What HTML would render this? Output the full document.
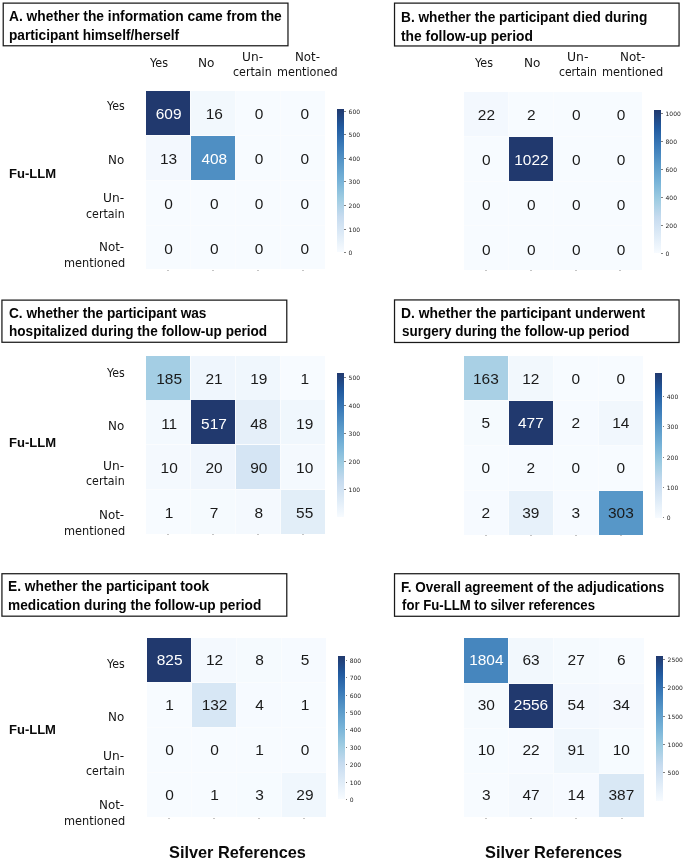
<!DOCTYPE html>
<html lang="en"><head><meta charset="utf-8"><title>Fu-LLM confusion matrices</title>
<style>
html,body{margin:0;padding:0;background:#fff;}
body{width:685px;height:861px;position:relative;overflow:hidden;font-family:"Liberation Sans",sans-serif;color:#111;}
.tb{position:absolute;border:1.4px solid #1c1c1c;box-sizing:border-box;background:#fff;}
.t{position:absolute;white-space:nowrap;transform-origin:0 50%;}
.tl{font-weight:bold;font-size:14.2px;line-height:18px;color:#050505;}
.cell{position:absolute;text-align:center;font-size:15px;line-height:18px;color:#1a1a1a;}
.cell span{position:absolute;left:0;right:0;top:50%;margin-top:-7.5px;transform:scaleX(1.03)}
.lab{font-family:"DejaVu Sans","Liberation Sans",sans-serif;font-size:11.6px;line-height:14px;color:#151515;}
.fu{font-weight:bold;font-size:12.6px;line-height:16px;color:#0a0a0a;}
.sr{font-weight:bold;font-size:16.1px;line-height:20px;color:#0a0a0a;}
.cb{position:absolute;}
.tk{position:absolute;font-family:"DejaVu Sans","Liberation Sans",sans-serif;font-size:6px;line-height:8px;color:#222;white-space:nowrap;}
.tm{position:absolute;height:1px;width:1.6px;background:#808080;}
.dot{position:absolute;width:2px;height:1px;background:#c4c4c4;}
</style></head><body>

<div id="tA0" class="t tl" style="left:8.67px;top:7.01px;transform:scaleX(0.9720)">A. whether the information came from the</div>
<div id="tA1" class="t tl" style="left:8.58px;top:25.71px;transform:scaleX(0.9635)">participant himself/herself</div>
<div style="position:absolute;left:146.0px;top:91.3px;width:179.2px;height:178.2px;background:#fafcfe"></div>
<div class="cell" style="left:146.00px;top:91.30px;width:44.20px;height:43.95px;background:#21396e;color:#fff"><span style="margin-left:0.95px;margin-top:-8.00px">609</span></div>
<div class="cell" style="left:191.00px;top:91.30px;width:44.20px;height:43.95px;background:#f2f8fd;color:#1a1a1a"><span style="margin-left:1.52px;margin-top:-8.00px">16</span></div>
<div class="cell" style="left:236.00px;top:91.30px;width:44.20px;height:43.95px;background:#f7fbff;color:#1a1a1a"><span style="margin-left:2.09px;margin-top:-8.00px">0</span></div>
<div class="cell" style="left:281.00px;top:91.30px;width:44.20px;height:43.95px;background:#f7fbff;color:#1a1a1a"><span style="margin-left:2.66px;margin-top:-8.00px">0</span></div>
<div class="cell" style="left:146.00px;top:136.05px;width:44.20px;height:43.95px;background:#f3f8fe;color:#1a1a1a"><span style="margin-left:0.95px;margin-top:-8.00px">13</span></div>
<div class="cell" style="left:191.00px;top:136.05px;width:44.20px;height:43.95px;background:#4f8fc3;color:#fff"><span style="margin-left:1.52px;margin-top:-8.00px">408</span></div>
<div class="cell" style="left:236.00px;top:136.05px;width:44.20px;height:43.95px;background:#f7fbff;color:#1a1a1a"><span style="margin-left:2.09px;margin-top:-8.00px">0</span></div>
<div class="cell" style="left:281.00px;top:136.05px;width:44.20px;height:43.95px;background:#f7fbff;color:#1a1a1a"><span style="margin-left:2.66px;margin-top:-8.00px">0</span></div>
<div class="cell" style="left:146.00px;top:180.80px;width:44.20px;height:43.95px;background:#f7fbff;color:#1a1a1a"><span style="margin-left:0.95px;margin-top:-8.00px">0</span></div>
<div class="cell" style="left:191.00px;top:180.80px;width:44.20px;height:43.95px;background:#f7fbff;color:#1a1a1a"><span style="margin-left:1.52px;margin-top:-8.00px">0</span></div>
<div class="cell" style="left:236.00px;top:180.80px;width:44.20px;height:43.95px;background:#f7fbff;color:#1a1a1a"><span style="margin-left:2.09px;margin-top:-8.00px">0</span></div>
<div class="cell" style="left:281.00px;top:180.80px;width:44.20px;height:43.95px;background:#f7fbff;color:#1a1a1a"><span style="margin-left:2.66px;margin-top:-8.00px">0</span></div>
<div class="cell" style="left:146.00px;top:225.55px;width:44.20px;height:43.95px;background:#f7fbff;color:#1a1a1a"><span style="margin-left:0.95px;margin-top:-8.00px">0</span></div>
<div class="cell" style="left:191.00px;top:225.55px;width:44.20px;height:43.95px;background:#f7fbff;color:#1a1a1a"><span style="margin-left:1.52px;margin-top:-8.00px">0</span></div>
<div class="cell" style="left:236.00px;top:225.55px;width:44.20px;height:43.95px;background:#f7fbff;color:#1a1a1a"><span style="margin-left:2.09px;margin-top:-8.00px">0</span></div>
<div class="cell" style="left:281.00px;top:225.55px;width:44.20px;height:43.95px;background:#f7fbff;color:#1a1a1a"><span style="margin-left:2.66px;margin-top:-8.00px">0</span></div>
<div class="dot" style="left:167.1px;top:270.0px"></div>
<div class="dot" style="left:212.1px;top:270.0px"></div>
<div class="dot" style="left:257.1px;top:270.0px"></div>
<div class="dot" style="left:302.1px;top:270.0px"></div>
<div class="cb" style="left:336.8px;top:109.1px;width:7.3px;height:143.4px;background:linear-gradient(to bottom,#21396e 0.0%,#215a9f 12.5%,#3a7ab8 25.0%,#5999c9 37.5%,#77b3d8 50.0%,#9ecce2 62.5%,#c6dbef 75.0%,#deebf7 87.5%,#f7fbff 100.0%)"></div>
<div class="tm" style="left:344.4px;top:110.7px"></div>
<div class="tk" style="left:348.6px;top:107.7px">600</div>
<div class="tm" style="left:344.4px;top:134.3px"></div>
<div class="tk" style="left:348.6px;top:131.3px">500</div>
<div class="tm" style="left:344.4px;top:157.8px"></div>
<div class="tk" style="left:348.6px;top:154.8px">400</div>
<div class="tm" style="left:344.4px;top:181.4px"></div>
<div class="tk" style="left:348.6px;top:178.4px">300</div>
<div class="tm" style="left:344.4px;top:204.9px"></div>
<div class="tk" style="left:348.6px;top:201.9px">200</div>
<div class="tm" style="left:344.4px;top:228.5px"></div>
<div class="tk" style="left:348.6px;top:225.5px">100</div>
<div class="tm" style="left:344.4px;top:252.0px"></div>
<div class="tk" style="left:348.6px;top:249.0px">0</div>
<div id="rA0" class="t lab" style="left:106.68px;top:98.80px;transform:scaleX(0.9525)">Yes</div>
<div id="rA1" class="t lab" style="left:107.69px;top:152.71px;transform:scaleX(1.0263)">No</div>
<div id="rA2" class="t lab" style="left:103.13px;top:191.10px;transform:scaleX(1.0543)">Un-</div>
<div id="rA3" class="t lab" style="left:85.95px;top:207.21px;transform:scaleX(0.9546)">certain</div>
<div id="rA4" class="t lab" style="left:99.25px;top:240.00px;transform:scaleX(1.0251)">Not-</div>
<div id="rA5" class="t lab" style="left:64.21px;top:256.21px;transform:scaleX(0.9784)">mentioned</div>
<div id="fuA" class="t fu" style="left:9.18px;top:166.01px;transform:scaleX(1.0362)">Fu-LLM</div>
<div id="tB0" class="t tl" style="left:401.41px;top:8.21px;transform:scaleX(0.9643)">B. whether the participant died during</div>
<div id="tB1" class="t tl" style="left:400.91px;top:26.91px;transform:scaleX(0.9735)">the follow-up period</div>
<div style="position:absolute;left:464.1px;top:92.3px;width:178.2px;height:177.6px;background:#fafcfe"></div>
<div class="cell" style="left:464.10px;top:92.30px;width:43.95px;height:43.80px;background:#f3f8fe;color:#1a1a1a"><span style="margin-left:1.15px;margin-top:-8.50px">22</span></div>
<div class="cell" style="left:508.85px;top:92.30px;width:43.95px;height:43.80px;background:#f7fbff;color:#1a1a1a"><span style="margin-left:1.15px;margin-top:-8.50px">2</span></div>
<div class="cell" style="left:553.60px;top:92.30px;width:43.95px;height:43.80px;background:#f7fbff;color:#1a1a1a"><span style="margin-left:1.50px;margin-top:-8.50px">0</span></div>
<div class="cell" style="left:598.35px;top:92.30px;width:43.95px;height:43.80px;background:#f7fbff;color:#1a1a1a"><span style="margin-left:1.75px;margin-top:-8.50px">0</span></div>
<div class="cell" style="left:464.10px;top:136.90px;width:43.95px;height:43.80px;background:#f7fbff;color:#1a1a1a"><span style="margin-left:1.15px;margin-top:-8.16px">0</span></div>
<div class="cell" style="left:508.85px;top:136.90px;width:43.95px;height:43.80px;background:#21396e;color:#fff"><span style="margin-left:1.15px;margin-top:-8.16px">1022</span></div>
<div class="cell" style="left:553.60px;top:136.90px;width:43.95px;height:43.80px;background:#f7fbff;color:#1a1a1a"><span style="margin-left:1.50px;margin-top:-8.16px">0</span></div>
<div class="cell" style="left:598.35px;top:136.90px;width:43.95px;height:43.80px;background:#f7fbff;color:#1a1a1a"><span style="margin-left:1.75px;margin-top:-8.16px">0</span></div>
<div class="cell" style="left:464.10px;top:181.50px;width:43.95px;height:43.80px;background:#f7fbff;color:#1a1a1a"><span style="margin-left:1.15px;margin-top:-7.82px">0</span></div>
<div class="cell" style="left:508.85px;top:181.50px;width:43.95px;height:43.80px;background:#f7fbff;color:#1a1a1a"><span style="margin-left:1.15px;margin-top:-7.82px">0</span></div>
<div class="cell" style="left:553.60px;top:181.50px;width:43.95px;height:43.80px;background:#f7fbff;color:#1a1a1a"><span style="margin-left:1.50px;margin-top:-7.82px">0</span></div>
<div class="cell" style="left:598.35px;top:181.50px;width:43.95px;height:43.80px;background:#f7fbff;color:#1a1a1a"><span style="margin-left:1.75px;margin-top:-7.82px">0</span></div>
<div class="cell" style="left:464.10px;top:226.10px;width:43.95px;height:43.80px;background:#f7fbff;color:#1a1a1a"><span style="margin-left:1.15px;margin-top:-7.48px">0</span></div>
<div class="cell" style="left:508.85px;top:226.10px;width:43.95px;height:43.80px;background:#f7fbff;color:#1a1a1a"><span style="margin-left:1.15px;margin-top:-7.48px">0</span></div>
<div class="cell" style="left:553.60px;top:226.10px;width:43.95px;height:43.80px;background:#f7fbff;color:#1a1a1a"><span style="margin-left:1.50px;margin-top:-7.48px">0</span></div>
<div class="cell" style="left:598.35px;top:226.10px;width:43.95px;height:43.80px;background:#f7fbff;color:#1a1a1a"><span style="margin-left:1.75px;margin-top:-7.48px">0</span></div>
<div class="dot" style="left:485.1px;top:270.4px"></div>
<div class="dot" style="left:529.8px;top:270.4px"></div>
<div class="dot" style="left:574.6px;top:270.4px"></div>
<div class="dot" style="left:619.3px;top:270.4px"></div>
<div class="cb" style="left:654.4px;top:110.1px;width:6.6px;height:143.1px;background:linear-gradient(to bottom,#21396e 0.0%,#215a9f 12.5%,#3a7ab8 25.0%,#5999c9 37.5%,#77b3d8 50.0%,#9ecce2 62.5%,#c6dbef 75.0%,#deebf7 87.5%,#f7fbff 100.0%)"></div>
<div class="tm" style="left:661.3px;top:112.7px"></div>
<div class="tk" style="left:665.5px;top:109.7px">1000</div>
<div class="tm" style="left:661.3px;top:140.7px"></div>
<div class="tk" style="left:665.5px;top:137.7px">800</div>
<div class="tm" style="left:661.3px;top:168.7px"></div>
<div class="tk" style="left:665.5px;top:165.7px">600</div>
<div class="tm" style="left:661.3px;top:196.7px"></div>
<div class="tk" style="left:665.5px;top:193.7px">400</div>
<div class="tm" style="left:661.3px;top:224.7px"></div>
<div class="tk" style="left:665.5px;top:221.7px">200</div>
<div class="tm" style="left:661.3px;top:252.7px"></div>
<div class="tk" style="left:665.5px;top:249.7px">0</div>
<div id="tC0" class="t tl" style="left:9.02px;top:303.51px;transform:scaleX(0.9634)">C. whether the participant was</div>
<div id="tC1" class="t tl" style="left:8.64px;top:322.10px;transform:scaleX(0.9578)">hospitalized during the follow-up period</div>
<div style="position:absolute;left:146.1px;top:355.5px;width:179.1px;height:178.4px;background:#fafcfe"></div>
<div class="cell" style="left:146.10px;top:355.50px;width:44.18px;height:44.00px;background:#a4cee4;color:#1a1a1a"><span style="margin-left:1.85px;margin-top:-7.80px">185</span></div>
<div class="cell" style="left:191.07px;top:355.50px;width:44.18px;height:44.00px;background:#eff6fd;color:#1a1a1a"><span style="margin-left:2.15px;margin-top:-7.80px">21</span></div>
<div class="cell" style="left:236.05px;top:355.50px;width:44.18px;height:44.00px;background:#f0f7fd;color:#1a1a1a"><span style="margin-left:2.45px;margin-top:-7.80px">19</span></div>
<div class="cell" style="left:281.02px;top:355.50px;width:44.18px;height:44.00px;background:#f7fbff;color:#1a1a1a"><span style="margin-left:2.75px;margin-top:-7.80px">1</span></div>
<div class="cell" style="left:146.10px;top:400.30px;width:44.18px;height:44.00px;background:#f3f9fe;color:#1a1a1a"><span style="margin-left:1.85px;margin-top:-7.80px">11</span></div>
<div class="cell" style="left:191.07px;top:400.30px;width:44.18px;height:44.00px;background:#21396e;color:#fff"><span style="margin-left:2.15px;margin-top:-7.80px">517</span></div>
<div class="cell" style="left:236.05px;top:400.30px;width:44.18px;height:44.00px;background:#e5eff9;color:#1a1a1a"><span style="margin-left:2.45px;margin-top:-7.80px">48</span></div>
<div class="cell" style="left:281.02px;top:400.30px;width:44.18px;height:44.00px;background:#f0f7fd;color:#1a1a1a"><span style="margin-left:2.75px;margin-top:-7.80px">19</span></div>
<div class="cell" style="left:146.10px;top:445.10px;width:44.18px;height:44.00px;background:#f4f9fe;color:#1a1a1a"><span style="margin-left:1.85px;margin-top:-7.80px">10</span></div>
<div class="cell" style="left:191.07px;top:445.10px;width:44.18px;height:44.00px;background:#f0f6fd;color:#1a1a1a"><span style="margin-left:2.15px;margin-top:-7.80px">20</span></div>
<div class="cell" style="left:236.05px;top:445.10px;width:44.18px;height:44.00px;background:#d5e5f4;color:#1a1a1a"><span style="margin-left:2.45px;margin-top:-7.80px">90</span></div>
<div class="cell" style="left:281.02px;top:445.10px;width:44.18px;height:44.00px;background:#f4f9fe;color:#1a1a1a"><span style="margin-left:2.75px;margin-top:-7.80px">10</span></div>
<div class="cell" style="left:146.10px;top:489.90px;width:44.18px;height:44.00px;background:#f7fbff;color:#1a1a1a"><span style="margin-left:1.85px;margin-top:-7.80px">1</span></div>
<div class="cell" style="left:191.07px;top:489.90px;width:44.18px;height:44.00px;background:#f5fafe;color:#1a1a1a"><span style="margin-left:2.15px;margin-top:-7.80px">7</span></div>
<div class="cell" style="left:236.05px;top:489.90px;width:44.18px;height:44.00px;background:#f4f9fe;color:#1a1a1a"><span style="margin-left:2.45px;margin-top:-7.80px">8</span></div>
<div class="cell" style="left:281.02px;top:489.90px;width:44.18px;height:44.00px;background:#e2eef8;color:#1a1a1a"><span style="margin-left:2.75px;margin-top:-7.80px">55</span></div>
<div class="dot" style="left:167.2px;top:534.4px"></div>
<div class="dot" style="left:212.2px;top:534.4px"></div>
<div class="dot" style="left:257.1px;top:534.4px"></div>
<div class="dot" style="left:302.1px;top:534.4px"></div>
<div class="cb" style="left:336.8px;top:372.8px;width:7.3px;height:144.2px;background:linear-gradient(to bottom,#21396e 0.0%,#215a9f 12.5%,#3a7ab8 25.0%,#5999c9 37.5%,#77b3d8 50.0%,#9ecce2 62.5%,#c6dbef 75.0%,#deebf7 87.5%,#f7fbff 100.0%)"></div>
<div class="tm" style="left:344.4px;top:377.1px"></div>
<div class="tk" style="left:348.6px;top:374.1px">500</div>
<div class="tm" style="left:344.4px;top:405.0px"></div>
<div class="tk" style="left:348.6px;top:402.0px">400</div>
<div class="tm" style="left:344.4px;top:432.9px"></div>
<div class="tk" style="left:348.6px;top:429.9px">300</div>
<div class="tm" style="left:344.4px;top:460.9px"></div>
<div class="tk" style="left:348.6px;top:457.9px">200</div>
<div class="tm" style="left:344.4px;top:488.8px"></div>
<div class="tk" style="left:348.6px;top:485.8px">100</div>
<div id="rC0" class="t lab" style="left:106.68px;top:366.10px;transform:scaleX(0.9525)">Yes</div>
<div id="rC1" class="t lab" style="left:107.69px;top:419.00px;transform:scaleX(1.0263)">No</div>
<div id="rC2" class="t lab" style="left:103.03px;top:458.71px;transform:scaleX(1.0559)">Un-</div>
<div id="rC3" class="t lab" style="left:85.95px;top:473.80px;transform:scaleX(0.9546)">certain</div>
<div id="rC4" class="t lab" style="left:99.25px;top:507.71px;transform:scaleX(1.0251)">Not-</div>
<div id="rC5" class="t lab" style="left:64.21px;top:523.80px;transform:scaleX(0.9784)">mentioned</div>
<div id="fuC" class="t fu" style="left:9.18px;top:435.21px;transform:scaleX(1.0362)">Fu-LLM</div>
<div id="tD0" class="t tl" style="left:401.42px;top:303.71px;transform:scaleX(0.9765)">D. whether the participant underwent</div>
<div id="tD1" class="t tl" style="left:401.95px;top:322.01px;transform:scaleX(0.9498)">surgery during the follow-up period</div>
<div style="position:absolute;left:463.9px;top:355.5px;width:179.2px;height:179.1px;background:#fafcfe"></div>
<div class="cell" style="left:463.90px;top:355.50px;width:44.20px;height:44.35px;background:#a9d0e5;color:#1a1a1a"><span style="margin-left:0.45px;margin-top:-8.00px">163</span></div>
<div class="cell" style="left:508.90px;top:355.50px;width:44.20px;height:44.35px;background:#f2f8fd;color:#1a1a1a"><span style="margin-left:0.45px;margin-top:-8.00px">12</span></div>
<div class="cell" style="left:553.90px;top:355.50px;width:44.20px;height:44.35px;background:#f7fbff;color:#1a1a1a"><span style="margin-left:0.45px;margin-top:-8.00px">0</span></div>
<div class="cell" style="left:598.90px;top:355.50px;width:44.20px;height:44.35px;background:#f7fbff;color:#1a1a1a"><span style="margin-left:0.45px;margin-top:-8.00px">0</span></div>
<div class="cell" style="left:463.90px;top:400.65px;width:44.20px;height:44.35px;background:#f5fafe;color:#1a1a1a"><span style="margin-left:0.45px;margin-top:-8.40px">5</span></div>
<div class="cell" style="left:508.90px;top:400.65px;width:44.20px;height:44.35px;background:#21396e;color:#fff"><span style="margin-left:0.45px;margin-top:-8.40px">477</span></div>
<div class="cell" style="left:553.90px;top:400.65px;width:44.20px;height:44.35px;background:#f6faff;color:#1a1a1a"><span style="margin-left:0.45px;margin-top:-8.40px">2</span></div>
<div class="cell" style="left:598.90px;top:400.65px;width:44.20px;height:44.35px;background:#f1f7fd;color:#1a1a1a"><span style="margin-left:0.45px;margin-top:-8.40px">14</span></div>
<div class="cell" style="left:463.90px;top:445.80px;width:44.20px;height:44.35px;background:#f7fbff;color:#1a1a1a"><span style="margin-left:0.45px;margin-top:-8.80px">0</span></div>
<div class="cell" style="left:508.90px;top:445.80px;width:44.20px;height:44.35px;background:#f6faff;color:#1a1a1a"><span style="margin-left:0.45px;margin-top:-8.80px">2</span></div>
<div class="cell" style="left:553.90px;top:445.80px;width:44.20px;height:44.35px;background:#f7fbff;color:#1a1a1a"><span style="margin-left:0.45px;margin-top:-8.80px">0</span></div>
<div class="cell" style="left:598.90px;top:445.80px;width:44.20px;height:44.35px;background:#f7fbff;color:#1a1a1a"><span style="margin-left:0.45px;margin-top:-8.80px">0</span></div>
<div class="cell" style="left:463.90px;top:490.95px;width:44.20px;height:43.65px;background:#f6faff;color:#1a1a1a"><span style="margin-left:0.45px;margin-top:-9.20px">2</span></div>
<div class="cell" style="left:508.90px;top:490.95px;width:44.20px;height:43.65px;background:#e7f1fa;color:#1a1a1a"><span style="margin-left:0.45px;margin-top:-9.20px">39</span></div>
<div class="cell" style="left:553.90px;top:490.95px;width:44.20px;height:43.65px;background:#f6faff;color:#1a1a1a"><span style="margin-left:0.45px;margin-top:-9.20px">3</span></div>
<div class="cell" style="left:598.90px;top:490.95px;width:44.20px;height:43.65px;background:#5797c8;color:#1a1a1a"><span style="margin-left:0.45px;margin-top:-9.20px">303</span></div>
<div class="dot" style="left:485.0px;top:535.1px"></div>
<div class="dot" style="left:530.0px;top:535.1px"></div>
<div class="dot" style="left:575.0px;top:535.1px"></div>
<div class="dot" style="left:620.0px;top:535.1px"></div>
<div class="cb" style="left:655.2px;top:372.9px;width:7.1px;height:145.0px;background:linear-gradient(to bottom,#21396e 0.0%,#215a9f 12.5%,#3a7ab8 25.0%,#5999c9 37.5%,#77b3d8 50.0%,#9ecce2 62.5%,#c6dbef 75.0%,#deebf7 87.5%,#f7fbff 100.0%)"></div>
<div class="tm" style="left:662.6px;top:395.8px"></div>
<div class="tk" style="left:666.8px;top:392.8px">400</div>
<div class="tm" style="left:662.6px;top:426.2px"></div>
<div class="tk" style="left:666.8px;top:423.2px">300</div>
<div class="tm" style="left:662.6px;top:456.6px"></div>
<div class="tk" style="left:666.8px;top:453.6px">200</div>
<div class="tm" style="left:662.6px;top:487.0px"></div>
<div class="tk" style="left:666.8px;top:484.0px">100</div>
<div class="tm" style="left:662.6px;top:517.4px"></div>
<div class="tk" style="left:666.8px;top:514.4px">0</div>
<div id="tE0" class="t tl" style="left:8.25px;top:577.31px;transform:scaleX(0.9706)">E. whether the participant took</div>
<div id="tE1" class="t tl" style="left:8.40px;top:596.01px;transform:scaleX(0.9652)">medication during the follow-up period</div>
<div style="position:absolute;left:147.1px;top:638.1px;width:179.1px;height:178.9px;background:#fafcfe"></div>
<div class="cell" style="left:147.10px;top:638.10px;width:44.18px;height:44.12px;background:#21396e;color:#fff"><span style="margin-left:0.90px;margin-top:-9.40px">825</span></div>
<div class="cell" style="left:192.07px;top:638.10px;width:44.18px;height:44.12px;background:#f4f9fe;color:#1a1a1a"><span style="margin-left:1.08px;margin-top:-9.40px">12</span></div>
<div class="cell" style="left:237.05px;top:638.10px;width:44.18px;height:44.12px;background:#f5fafe;color:#1a1a1a"><span style="margin-left:1.26px;margin-top:-9.40px">8</span></div>
<div class="cell" style="left:282.02px;top:638.10px;width:44.18px;height:44.12px;background:#f6faff;color:#1a1a1a"><span style="margin-left:2.30px;margin-top:-9.40px">5</span></div>
<div class="cell" style="left:147.10px;top:683.02px;width:44.18px;height:44.12px;background:#f7fbff;color:#1a1a1a"><span style="margin-left:0.90px;margin-top:-9.40px">1</span></div>
<div class="cell" style="left:192.07px;top:683.02px;width:44.18px;height:44.12px;background:#d7e7f5;color:#1a1a1a"><span style="margin-left:1.08px;margin-top:-9.40px">132</span></div>
<div class="cell" style="left:237.05px;top:683.02px;width:44.18px;height:44.12px;background:#f6faff;color:#1a1a1a"><span style="margin-left:1.26px;margin-top:-9.40px">4</span></div>
<div class="cell" style="left:282.02px;top:683.02px;width:44.18px;height:44.12px;background:#f7fbff;color:#1a1a1a"><span style="margin-left:2.30px;margin-top:-9.40px">1</span></div>
<div class="cell" style="left:147.10px;top:727.95px;width:44.18px;height:44.12px;background:#f7fbff;color:#1a1a1a"><span style="margin-left:0.90px;margin-top:-9.40px">0</span></div>
<div class="cell" style="left:192.07px;top:727.95px;width:44.18px;height:44.12px;background:#f7fbff;color:#1a1a1a"><span style="margin-left:1.08px;margin-top:-9.40px">0</span></div>
<div class="cell" style="left:237.05px;top:727.95px;width:44.18px;height:44.12px;background:#f7fbff;color:#1a1a1a"><span style="margin-left:1.26px;margin-top:-9.40px">1</span></div>
<div class="cell" style="left:282.02px;top:727.95px;width:44.18px;height:44.12px;background:#f7fbff;color:#1a1a1a"><span style="margin-left:2.30px;margin-top:-9.40px">0</span></div>
<div class="cell" style="left:147.10px;top:772.88px;width:44.18px;height:44.12px;background:#f7fbff;color:#1a1a1a"><span style="margin-left:0.90px;margin-top:-9.40px">0</span></div>
<div class="cell" style="left:192.07px;top:772.88px;width:44.18px;height:44.12px;background:#f7fbff;color:#1a1a1a"><span style="margin-left:1.08px;margin-top:-9.40px">1</span></div>
<div class="cell" style="left:237.05px;top:772.88px;width:44.18px;height:44.12px;background:#f6fbff;color:#1a1a1a"><span style="margin-left:1.26px;margin-top:-9.40px">3</span></div>
<div class="cell" style="left:282.02px;top:772.88px;width:44.18px;height:44.12px;background:#f0f7fd;color:#1a1a1a"><span style="margin-left:2.30px;margin-top:-9.40px">29</span></div>
<div class="dot" style="left:168.2px;top:817.5px"></div>
<div class="dot" style="left:213.2px;top:817.5px"></div>
<div class="dot" style="left:258.1px;top:817.5px"></div>
<div class="dot" style="left:303.1px;top:817.5px"></div>
<div class="cb" style="left:337.8px;top:655.9px;width:7.4px;height:143.6px;background:linear-gradient(to bottom,#21396e 0.0%,#215a9f 12.5%,#3a7ab8 25.0%,#5999c9 37.5%,#77b3d8 50.0%,#9ecce2 62.5%,#c6dbef 75.0%,#deebf7 87.5%,#f7fbff 100.0%)"></div>
<div class="tm" style="left:345.5px;top:659.8px"></div>
<div class="tk" style="left:349.7px;top:656.8px">800</div>
<div class="tm" style="left:345.5px;top:677.2px"></div>
<div class="tk" style="left:349.7px;top:674.2px">700</div>
<div class="tm" style="left:345.5px;top:694.6px"></div>
<div class="tk" style="left:349.7px;top:691.6px">600</div>
<div class="tm" style="left:345.5px;top:712.0px"></div>
<div class="tk" style="left:349.7px;top:709.0px">500</div>
<div class="tm" style="left:345.5px;top:729.4px"></div>
<div class="tk" style="left:349.7px;top:726.4px">400</div>
<div class="tm" style="left:345.5px;top:746.8px"></div>
<div class="tk" style="left:349.7px;top:743.8px">300</div>
<div class="tm" style="left:345.5px;top:764.2px"></div>
<div class="tk" style="left:349.7px;top:761.2px">200</div>
<div class="tm" style="left:345.5px;top:781.6px"></div>
<div class="tk" style="left:349.7px;top:778.6px">100</div>
<div class="tm" style="left:345.5px;top:799.0px"></div>
<div class="tk" style="left:349.7px;top:796.0px">0</div>
<div id="rE0" class="t lab" style="left:106.68px;top:656.60px;transform:scaleX(0.9525)">Yes</div>
<div id="rE1" class="t lab" style="left:107.69px;top:709.50px;transform:scaleX(1.0263)">No</div>
<div id="rE2" class="t lab" style="left:103.03px;top:748.80px;transform:scaleX(1.0559)">Un-</div>
<div id="rE3" class="t lab" style="left:85.95px;top:764.00px;transform:scaleX(0.9546)">certain</div>
<div id="rE4" class="t lab" style="left:99.25px;top:797.80px;transform:scaleX(1.0251)">Not-</div>
<div id="rE5" class="t lab" style="left:64.21px;top:813.91px;transform:scaleX(0.9784)">mentioned</div>
<div id="fuE" class="t fu" style="left:8.94px;top:722.41px;transform:scaleX(1.0330)">Fu-LLM</div>
<div id="tF0" class="t tl" style="left:401.14px;top:577.71px;transform:scaleX(0.9511)">F. Overall agreement of the adjudications</div>
<div id="tF1" class="t tl" style="left:402.31px;top:595.51px;transform:scaleX(0.9272)">for Fu-LLM to silver references</div>
<div style="position:absolute;left:463.9px;top:638.4px;width:179.9px;height:178.8px;background:#fafcfe"></div>
<div class="cell" style="left:463.90px;top:638.40px;width:44.38px;height:44.40px;background:#4686be;color:#fff"><span style="margin-left:-0.30px;margin-top:-9.70px">1804</span></div>
<div class="cell" style="left:509.07px;top:638.40px;width:44.38px;height:44.40px;background:#f2f8fd;color:#1a1a1a"><span style="margin-left:0.32px;margin-top:-9.70px">63</span></div>
<div class="cell" style="left:554.25px;top:638.40px;width:44.38px;height:44.40px;background:#f5fafe;color:#1a1a1a"><span style="margin-left:-0.01px;margin-top:-9.70px">27</span></div>
<div class="cell" style="left:599.42px;top:638.40px;width:44.38px;height:44.40px;background:#f7fbff;color:#1a1a1a"><span style="margin-left:-0.34px;margin-top:-9.70px">6</span></div>
<div class="cell" style="left:463.90px;top:683.60px;width:44.38px;height:44.40px;background:#f5fafe;color:#1a1a1a"><span style="margin-left:-0.30px;margin-top:-9.70px">30</span></div>
<div class="cell" style="left:509.07px;top:683.60px;width:44.38px;height:44.40px;background:#21396e;color:#fff"><span style="margin-left:0.32px;margin-top:-9.70px">2556</span></div>
<div class="cell" style="left:554.25px;top:683.60px;width:44.38px;height:44.40px;background:#f3f8fe;color:#1a1a1a"><span style="margin-left:-0.01px;margin-top:-9.70px">54</span></div>
<div class="cell" style="left:599.42px;top:683.60px;width:44.38px;height:44.40px;background:#f5f9fe;color:#1a1a1a"><span style="margin-left:-0.34px;margin-top:-9.70px">34</span></div>
<div class="cell" style="left:463.90px;top:728.80px;width:44.38px;height:44.40px;background:#f6fbff;color:#1a1a1a"><span style="margin-left:-0.30px;margin-top:-9.70px">10</span></div>
<div class="cell" style="left:509.07px;top:728.80px;width:44.38px;height:44.40px;background:#f6faff;color:#1a1a1a"><span style="margin-left:0.32px;margin-top:-9.70px">22</span></div>
<div class="cell" style="left:554.25px;top:728.80px;width:44.38px;height:44.40px;background:#f0f7fd;color:#1a1a1a"><span style="margin-left:-0.01px;margin-top:-9.70px">91</span></div>
<div class="cell" style="left:599.42px;top:728.80px;width:44.38px;height:44.40px;background:#f6fbff;color:#1a1a1a"><span style="margin-left:-0.34px;margin-top:-9.70px">10</span></div>
<div class="cell" style="left:463.90px;top:774.00px;width:44.38px;height:43.20px;background:#f7fbff;color:#1a1a1a"><span style="margin-left:-0.30px;margin-top:-9.70px">3</span></div>
<div class="cell" style="left:509.07px;top:774.00px;width:44.38px;height:43.20px;background:#f4f9fe;color:#1a1a1a"><span style="margin-left:0.32px;margin-top:-9.70px">47</span></div>
<div class="cell" style="left:554.25px;top:774.00px;width:44.38px;height:43.20px;background:#f6faff;color:#1a1a1a"><span style="margin-left:-0.01px;margin-top:-9.70px">14</span></div>
<div class="cell" style="left:599.42px;top:774.00px;width:44.38px;height:43.20px;background:#d9e8f5;color:#1a1a1a"><span style="margin-left:-0.34px;margin-top:-9.70px">387</span></div>
<div class="dot" style="left:485.1px;top:817.7px"></div>
<div class="dot" style="left:530.3px;top:817.7px"></div>
<div class="dot" style="left:575.4px;top:817.7px"></div>
<div class="dot" style="left:620.6px;top:817.7px"></div>
<div class="cb" style="left:656.0px;top:656.1px;width:7.1px;height:144.9px;background:linear-gradient(to bottom,#21396e 0.0%,#215a9f 12.5%,#3a7ab8 25.0%,#5999c9 37.5%,#77b3d8 50.0%,#9ecce2 62.5%,#c6dbef 75.0%,#deebf7 87.5%,#f7fbff 100.0%)"></div>
<div class="tm" style="left:663.4px;top:658.8px"></div>
<div class="tk" style="left:667.6px;top:655.8px">2500</div>
<div class="tm" style="left:663.4px;top:687.2px"></div>
<div class="tk" style="left:667.6px;top:684.2px">2000</div>
<div class="tm" style="left:663.4px;top:715.5px"></div>
<div class="tk" style="left:667.6px;top:712.5px">1500</div>
<div class="tm" style="left:663.4px;top:743.9px"></div>
<div class="tk" style="left:667.6px;top:740.9px">1000</div>
<div class="tm" style="left:663.4px;top:772.3px"></div>
<div class="tk" style="left:667.6px;top:769.3px">500</div>
<svg style="position:absolute;left:0;top:0" width="685" height="861" viewBox="0 0 685 861" fill="none" stroke="#1a1a1a" stroke-width="1.25"><rect x="3.23" y="3.12" width="284.75" height="42.65"/><rect x="394.52" y="3.12" width="284.55" height="42.85"/><rect x="1.93" y="300.12" width="284.85" height="42.15"/><rect x="394.52" y="299.93" width="284.55" height="42.55"/><rect x="1.93" y="573.73" width="284.85" height="42.45"/><rect x="394.52" y="573.73" width="284.55" height="42.55"/></svg>
<div id="hA0" class="t lab" style="left:149.91px;top:56.30px;transform:scaleX(0.9680)">Yes</div>
<div id="hA1" class="t lab" style="left:197.78px;top:56.30px;transform:scaleX(1.0447)">No</div>
<div id="hA2" class="t lab" style="left:242.00px;top:49.80px;transform:scaleX(1.0502)">Un-</div>
<div id="hA3" class="t lab" style="left:233.03px;top:64.90px;transform:scaleX(0.9558)">certain</div>
<div id="hA4" class="t lab" style="left:294.80px;top:49.80px;transform:scaleX(1.0197)">Not-</div>
<div id="hA5" class="t lab" style="left:277.46px;top:64.91px;transform:scaleX(0.9705)">mentioned</div>
<div id="hB0" class="t lab" style="left:475.40px;top:56.30px;transform:scaleX(0.9620)">Yes</div>
<div id="hB1" class="t lab" style="left:523.69px;top:56.30px;transform:scaleX(1.0394)">No</div>
<div id="hB2" class="t lab" style="left:567.31px;top:49.80px;transform:scaleX(1.0707)">Un-</div>
<div id="hB3" class="t lab" style="left:559.06px;top:64.91px;transform:scaleX(0.9346)">certain</div>
<div id="hB4" class="t lab" style="left:620.35px;top:49.80px;transform:scaleX(1.0279)">Not-</div>
<div id="hB5" class="t lab" style="left:602.20px;top:64.91px;transform:scaleX(0.9806)">mentioned</div>
<div id="srL" class="t sr" style="left:168.55px;top:842.40px;transform:scaleX(1.0135)">Silver References</div>
<div id="srR" class="t sr" style="left:485.44px;top:842.40px;transform:scaleX(1.0153)">Silver References</div>
</body></html>
